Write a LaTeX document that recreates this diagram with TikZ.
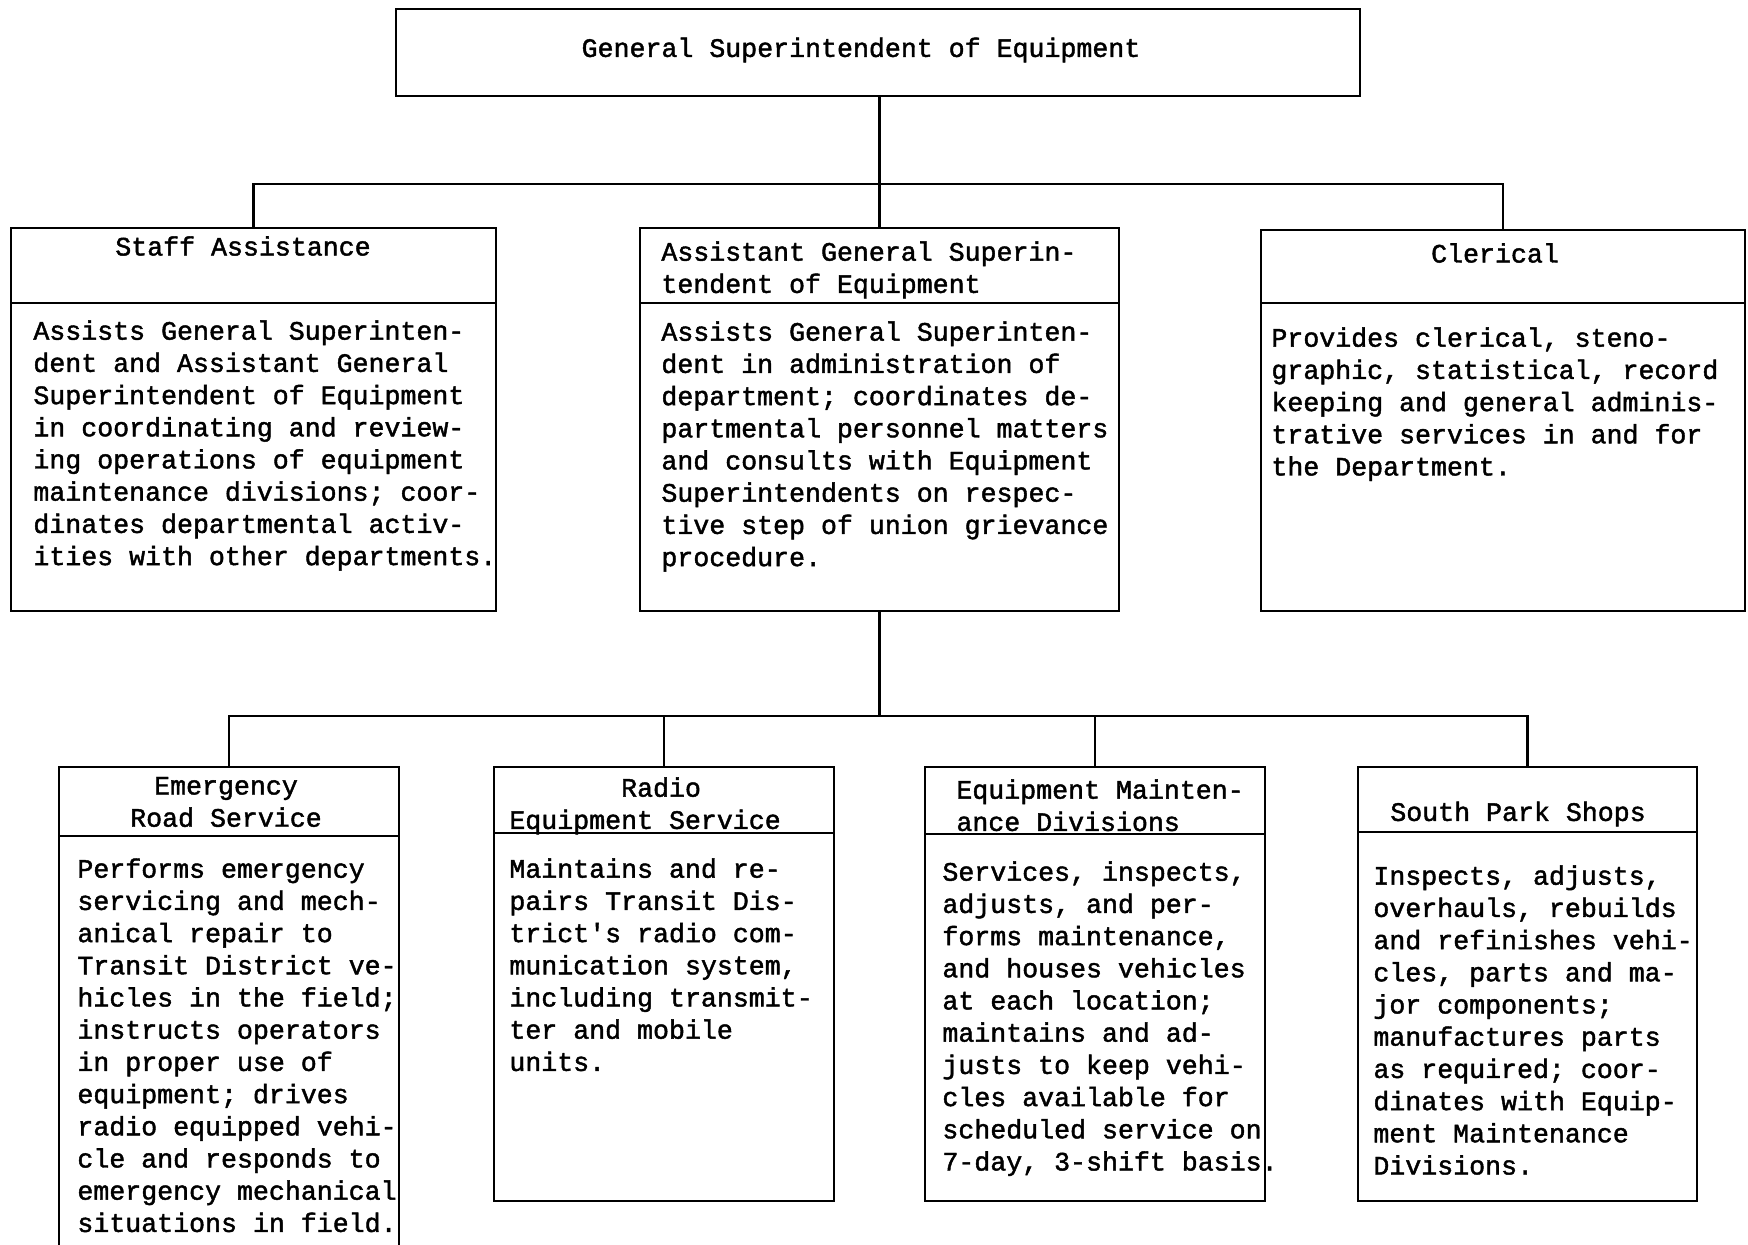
\documentclass[tikz,border=0pt]{standalone}
\usepackage{fontspec}
\newfontfamily\typewriter[FakeBold=1.6]{Liberation Mono}
\usetikzlibrary{fit}
\newcommand\txt{\typewriter\fontsize{13.3}{16.1}\selectfont}
\begin{document}
\begin{tikzpicture}[x=0.5pt,y=-0.5pt,
  box/.style={draw, line width=1.1pt, inner sep=0pt},
  wire/.style={line width=1.1pt},
  body/.style={anchor=north west, inner sep=0pt, align=left, font=\txt},
  head/.style={inner sep=0pt, align=center, font=\txt}]
\useasboundingbox (0,0) rectangle (1748,1244);
\clip (0,0) rectangle (1748,1244);

% boxes
\node[box, fit={(396,9) (1360,96)}] (gse) {};
\node[box, fit={(11,228) (496,611)}] (staff) {};
\node[box, fit={(640,228) (1119,611)}] (agse) {};
\node[box, fit={(1261,230) (1745,611)}] (cler) {};
\node[box, fit={(59,767) (399,1290)}] (ers) {};
\node[box, fit={(494,767) (834,1201)}] (res) {};
\node[box, fit={(925,767) (1265,1201)}] (emd) {};
\node[box, fit={(1358,767) (1697,1201)}] (sps) {};

% header dividers
\draw[wire] (11,303) -- (496,303);
\draw[wire] (640,303) -- (1119,303);
\draw[wire] (1261,303) -- (1745,303);
\draw[wire] (59,836) -- (399,836);
\draw[wire] (494,833) -- (834,833);
\draw[wire] (925,834) -- (1265,834);
\draw[wire] (1358,832) -- (1697,832);

% connectors
\coordinate (busA) at (0,184);
\coordinate (busB) at (0,716);
\draw[wire] (agse.north |- gse.south) -- (agse.north);
\draw[wire] (staff.north) -- (staff.north |- busA) -- (cler.north |- busA) -- (cler.north);
\draw[wire] (agse.south) -- (agse.south |- busB);
\draw[wire] (ers.north) -- (ers.north |- busB) -- (sps.north |- busB) -- (sps.north);
\draw[wire] (res.north) -- (res.north |- busB);
\draw[wire] (emd.north) -- (emd.north |- busB);

% titles
\node[head] (t-gse) at (861,50) {General Superintendent of Equipment};
\node[head] (t-staff) at (243,246) {Staff Assistance};
\node[body] (t-agse) at (661,241) {Assistant General Superin-\\tendent of Equipment};
\node[head] (t-cler) at (1495,253) {Clerical};
\node[head] (t-ers) at (226,802) {Emergency\\Road Service};
\node[body] (t-res) at (509,777) {\hphantom{1234567}Radio\\Equipment Service};
\node[body] (t-emd) at (956,779) {Equipment Mainten-\\ance Divisions};
\node[head] (t-sps) at (1518,814) {South Park Shops};

% descriptions
\node[body] (d-staff) at (33,320) {Assists General Superinten-\\
dent and Assistant General\\
Superintendent of Equipment\\
in coordinating and review-\\
ing operations of equipment\\
maintenance divisions; coor-\\
dinates departmental activ-\\
ities with other departments.};
\node[body] (d-agse) at (661,321) {Assists General Superinten-\\
dent in administration of\\
department; coordinates de-\\
partmental personnel matters\\
and consults with Equipment\\
Superintendents on respec-\\
tive step of union grievance\\
procedure.};
\node[body] (d-cler) at (1271,327) {Provides clerical, steno-\\
graphic, statistical, record\\
keeping and general adminis-\\
trative services in and for\\
the Department.};
\node[body] (d-ers) at (77,858) {Performs emergency\\
servicing and mech-\\
anical repair to\\
Transit District ve-\\
hicles in the field;\\
instructs operators\\
in proper use of\\
equipment; drives\\
radio equipped vehi-\\
cle and responds to\\
emergency mechanical\\
situations in field.};
\node[body] (d-res) at (509,858) {Maintains and re-\\
pairs Transit Dis-\\
trict's radio com-\\
munication system,\\
including transmit-\\
ter and mobile\\
units.};
\node[body] (d-emd) at (942,861) {Services, inspects,\\
adjusts, and per-\\
forms maintenance,\\
and houses vehicles\\
at each location;\\
maintains and ad-\\
justs to keep vehi-\\
cles available for\\
scheduled service on\\
7-day, 3-shift basis.};
\node[body] (d-sps) at (1373,865) {Inspects, adjusts,\\
overhauls, rebuilds\\
and refinishes vehi-\\
cles, parts and ma-\\
jor components;\\
manufactures parts\\
as required; coor-\\
dinates with Equip-\\
ment Maintenance\\
Divisions.};
\end{tikzpicture}
\end{document}
